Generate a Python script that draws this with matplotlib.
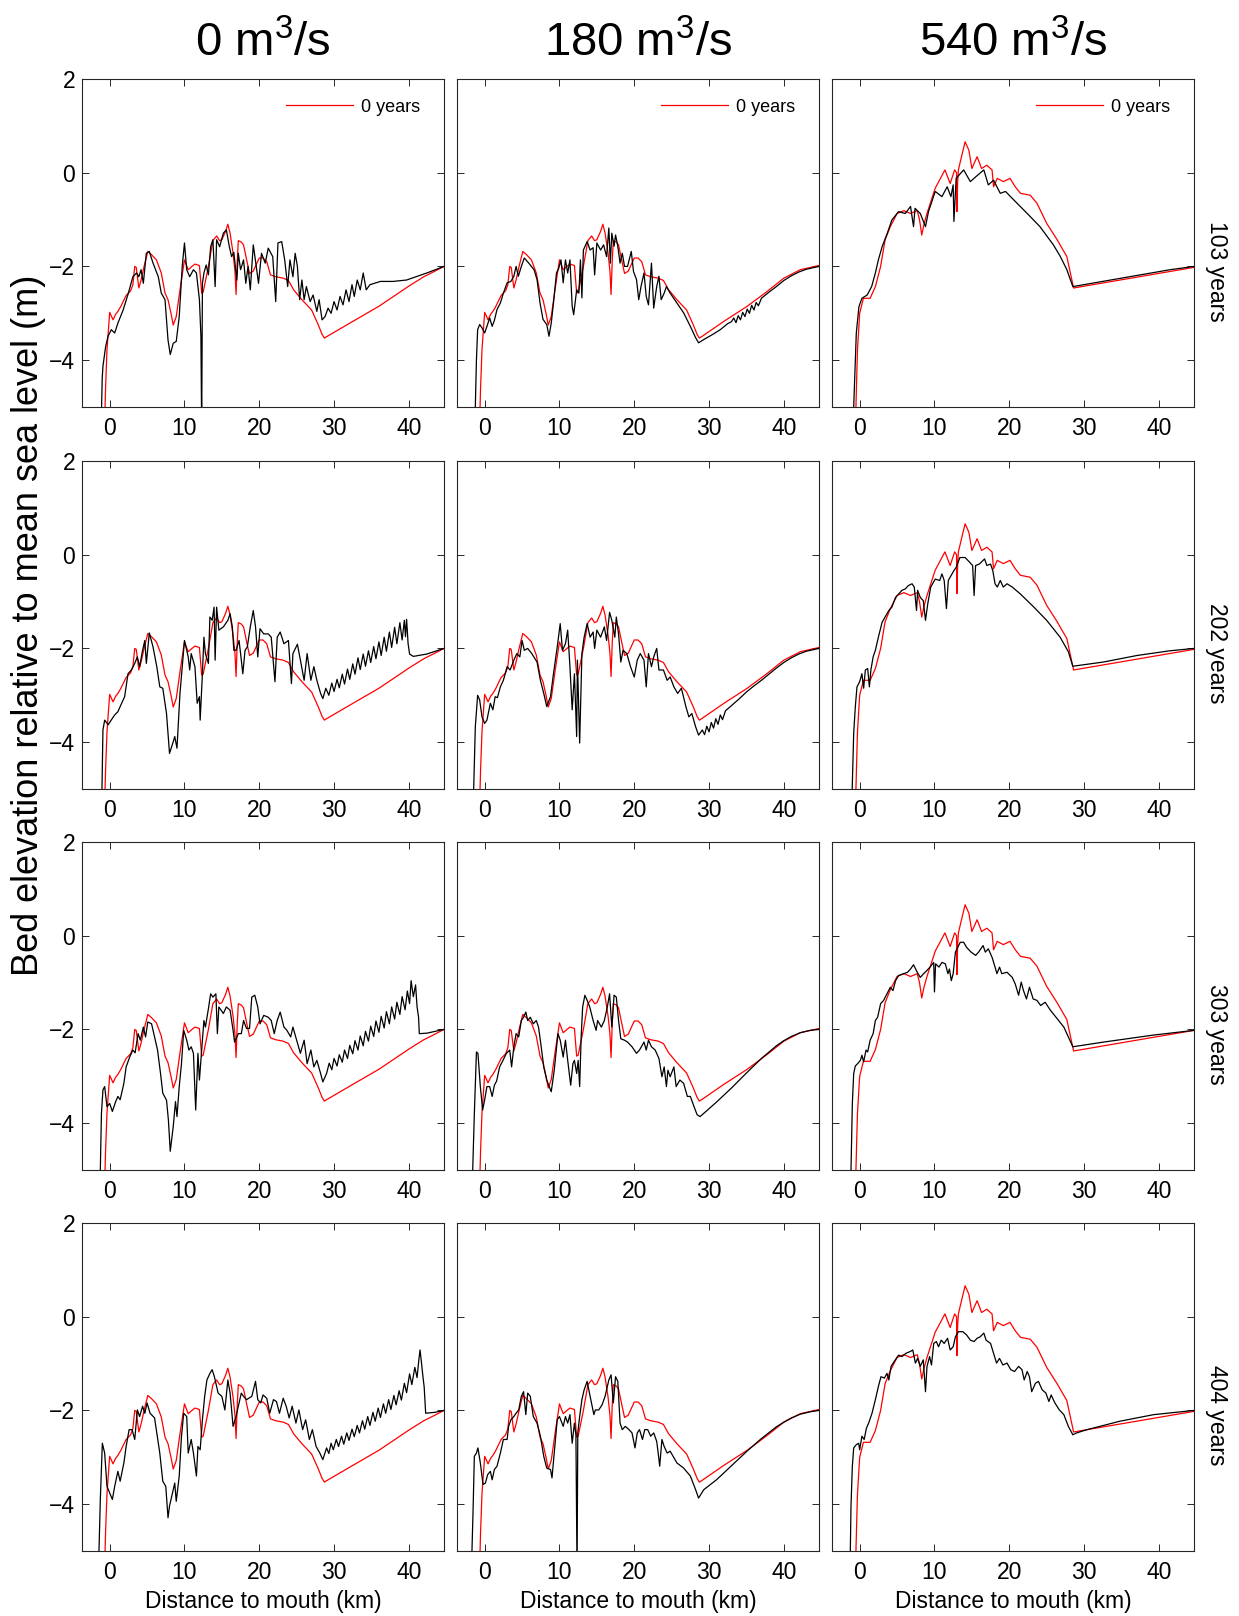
import numpy as np
import matplotlib.pyplot as plt

plt.rcParams['font.family'] = ['Liberation Sans', 'DejaVu Sans']
plt.rcParams['mathtext.fontset'] = 'custom'
plt.rcParams['mathtext.rm'] = 'Liberation Sans'
plt.rcParams['mathtext.it'] = 'Liberation Sans:italic'

discharges = ['0', '180', '540']
years = ['103', '202', '303', '404']
x_ticks = [0, 10, 20, 30, 40]
y_ticks = [-4, -2, 0, 2]

# initial bed (0 years), upstream part shared by the 0 and 180 m3/s runs
init_upstream = [
    (-0.7, -5.5), (-0.55, -4.6), (-0.36, -3.78), (-0.1, -3.2), (0.0, -2.98), (0.2, -3.05),
    (0.45, -3.14), (0.8, -3.02), (1.1, -2.96), (1.5, -2.85), (1.8, -2.75), (2.2, -2.62),
    (2.5, -2.57), (2.8, -2.52), (3.1, -2.39), (3.35, -2.0), (3.55, -2.02), (3.9, -2.46),
    (4.2, -2.29), (4.6, -2.0), (5.1, -1.68), (5.6, -1.75), (6.25, -1.86), (6.9, -2.14),
    (7.4, -2.57), (7.8, -2.71), (8.2, -3.0), (8.5, -3.25), (8.9, -3.07), (9.4, -2.5),
    (10.0, -1.86), (10.5, -2.07), (11.0, -2.0), (11.4, -1.95), (12.0, -1.98), (12.3, -2.57),
    (12.5, -2.55), (13.2, -2.0), (13.8, -1.45), (14.3, -1.35), (14.7, -1.45), (15.0, -1.43),
    (15.5, -1.25), (15.8, -1.1), (16.1, -1.29), (16.5, -1.72), (16.75, -2.1), (16.9, -2.6),
    (17.05, -1.9), (17.2, -1.45), (17.6, -1.48), (17.9, -1.54), (18.3, -1.85), (18.7, -2.15),
    (19.2, -2.1), (20.0, -1.82), (20.5, -1.82), (21.0, -1.9), (21.5, -2.18), (22.2, -2.22),
    (23.2, -2.25), (23.9, -2.3), (24.6, -2.5), (25.7, -2.71), (27.0, -2.93), (27.9, -3.25),
    (28.4, -3.45), (28.7, -3.53),
]
init_tail_0 = [(29.0, -3.5), (32.0, -3.22), (36.0, -2.85), (40.0, -2.42), (42.0, -2.22),
               (43.5, -2.1), (44.7, -2.0)]
init_tail_180 = [(29.0, -3.5), (32.0, -3.17), (35.1, -2.85), (37.8, -2.53), (40.0, -2.25),
                 (42.2, -2.07), (44.7, -1.98)]
init_540 = [
    (-0.6, -5.5), (-0.5, -5.0), (-0.3, -3.8), (0.0, -3.0), (0.5, -2.68), (1.4, -2.68),
    (2.1, -2.43), (2.8, -2.0), (3.4, -1.43), (4.1, -1.15), (5.0, -0.87), (5.9, -0.81),
    (6.8, -0.87), (7.7, -0.81), (8.0, -1.0), (8.3, -1.33), (8.6, -1.1), (9.0, -0.87),
    (10.1, -0.33), (11.4, 0.06), (12.1, -0.23), (12.7, 0.06), (12.95, 0.0), (13.0, -0.83),
    (13.1, -0.2), (13.2, 0.06), (13.7, 0.4), (14.1, 0.66), (14.6, 0.48), (15.0, 0.09),
    (15.7, 0.34), (16.3, 0.09), (17.0, 0.16), (17.7, 0.06), (17.9, -0.3), (18.4, -0.12),
    (19.2, -0.19), (20.1, -0.12), (20.8, -0.3), (21.5, -0.44), (22.8, -0.48), (23.7, -0.65),
    (25.0, -1.08), (26.4, -1.43), (27.7, -1.79), (28.6, -2.46), (44.7, -2.02),
]

# bed after N years, 0 m3/s
bed_0_103 = [
    (-1.15, -5.5), (-1.0, -4.4), (-0.9, -4.13), (-0.54, -3.71), (-0.22, -3.49), (0.22, -3.35),
    (0.67, -3.42), (1.1, -3.21), (1.8, -2.93), (2.5, -2.57), (3.1, -2.22), (3.6, -2.14),
    (3.9, -2.22), (4.2, -2.07), (4.5, -2.36), (4.9, -1.72), (5.3, -1.68), (5.8, -1.93),
    (6.5, -2.22), (6.9, -2.57), (7.4, -2.71), (7.8, -3.57), (8.1, -3.88), (8.5, -3.64),
    (8.9, -3.6), (9.3, -3.07), (9.7, -2.0), (10.0, -1.5), (10.3, -2.07), (10.7, -2.22),
    (11.2, -2.07), (11.6, -2.14), (12.0, -2.71), (12.2, -3.5), (12.3, -5.5), (12.4, -2.36),
    (12.6, -2.14), (12.9, -1.97), (13.2, -2.18), (13.5, -1.58), (13.8, -1.43), (14.1, -2.43),
    (14.3, -1.43), (14.7, -1.58), (15.2, -1.29), (15.6, -1.22), (16.0, -1.58), (16.3, -1.79),
    (16.6, -1.7), (17.0, -2.29), (17.2, -1.72), (17.5, -2.07), (17.9, -1.86), (18.2, -2.36),
    (18.5, -2.0), (18.8, -2.5), (19.2, -1.54), (19.6, -2.0), (19.9, -2.36), (20.3, -1.72),
    (20.8, -1.93), (21.2, -1.61), (21.8, -1.79), (22.2, -2.75), (22.5, -1.5), (23.0, -1.47),
    (23.4, -1.86), (23.8, -2.43), (24.1, -1.86), (24.5, -2.22), (24.8, -1.72), (25.1, -2.0),
    (25.4, -2.71), (25.7, -2.29), (26.0, -2.71), (26.3, -2.43), (26.8, -2.75), (27.2, -2.61),
    (27.7, -2.96), (28.0, -2.71), (28.4, -3.14), (28.8, -3.07), (29.2, -2.89), (29.6, -3.0),
    (30.0, -2.75), (30.4, -2.93), (30.8, -2.64), (31.2, -2.82), (31.6, -2.5), (32.0, -2.75),
    (32.4, -2.39), (32.7, -2.64), (33.1, -2.29), (33.5, -2.5), (33.9, -2.14), (34.3, -2.5),
    (34.8, -2.39), (36.2, -2.32), (37.9, -2.32), (39.7, -2.29), (42.4, -2.14), (44.7, -2.0),
]
bed_0_202 = [
    (-1.1, -5.5), (-1.03, -5.0), (-0.9, -3.74), (-0.67, -3.53), (-0.2, -3.63), (0.2, -3.53),
    (0.67, -3.42), (1.1, -3.35), (1.6, -3.17), (2.0, -3.03), (2.45, -2.54), (2.9, -2.46),
    (3.35, -2.32), (3.7, -2.18), (4.0, -2.39), (4.4, -2.04), (4.7, -1.83), (4.9, -2.32),
    (5.3, -1.67), (5.8, -1.97), (6.3, -2.39), (6.7, -2.82), (7.1, -2.85), (7.6, -3.39),
    (8.0, -4.24), (8.5, -3.99), (8.7, -3.88), (9.0, -4.13), (9.4, -2.96), (10.0, -1.83),
    (10.5, -2.18), (10.7, -2.46), (10.9, -2.11), (11.4, -2.39), (11.7, -3.17), (12.0, -3.03),
    (12.1, -3.53), (12.4, -2.54), (12.6, -1.76), (12.8, -2.11), (13.2, -2.32), (13.4, -1.33),
    (13.7, -1.4), (13.96, -1.12), (14.1, -2.25), (14.3, -1.12), (14.6, -1.61), (15.2, -1.54),
    (15.8, -1.4), (16.1, -1.26), (16.4, -1.54), (16.6, -2.04), (16.9, -2.04), (17.3, -1.83),
    (17.6, -2.25), (17.8, -2.54), (18.1, -2.04), (18.4, -1.97), (18.8, -1.54), (19.2, -1.19),
    (19.5, -1.54), (19.8, -2.18), (20.1, -1.58), (20.6, -1.69), (21.2, -1.69), (21.6, -1.76),
    (22.1, -2.71), (22.4, -1.76), (22.8, -1.65), (23.3, -1.9), (23.9, -1.83), (24.3, -2.75),
    (24.5, -2.11), (25.1, -1.91), (25.5, -2.25), (26.0, -2.68), (26.4, -2.11), (26.9, -2.68),
    (27.3, -2.39), (27.7, -2.68), (28.2, -2.96), (28.5, -3.07), (28.9, -2.85), (29.3, -3.0),
    (29.7, -2.74), (30.0, -2.92), (30.4, -2.66), (30.7, -2.84), (31.1, -2.55), (31.4, -2.76),
    (31.8, -2.44), (32.1, -2.66), (32.5, -2.33), (32.8, -2.55), (33.2, -2.2), (33.5, -2.45),
    (33.9, -2.12), (34.2, -2.38), (34.6, -2.05), (34.9, -2.3), (35.3, -1.96), (35.6, -2.22),
    (36.0, -1.86), (36.3, -2.15), (36.7, -1.76), (37.0, -2.06), (37.4, -1.65), (37.7, -1.98),
    (38.1, -1.55), (38.4, -1.9), (38.8, -1.45), (39.1, -1.82), (39.4, -1.4), (39.55, -1.75),
    (39.7, -1.38), (39.9, -1.9), (40.1, -2.12), (40.6, -2.17), (42.4, -2.12), (44.7, -2.0),
]
bed_0_303 = [
    (-1.3, -5.5), (-1.25, -5.0), (-1.1, -3.79), (-0.9, -3.29), (-0.67, -3.22), (-0.36, -3.65),
    (0.0, -3.58), (0.36, -3.75), (0.8, -3.54), (1.1, -3.43), (1.4, -3.5), (1.9, -3.15),
    (2.2, -2.8), (2.7, -2.58), (3.1, -2.44), (3.4, -2.5), (3.8, -2.09), (4.1, -2.23),
    (4.5, -1.95), (4.8, -2.16), (5.1, -1.84), (5.6, -1.88), (6.0, -2.16), (6.4, -2.44),
    (6.8, -2.94), (7.1, -3.36), (7.6, -3.51), (7.85, -3.93), (8.1, -4.6), (8.5, -4.07),
    (8.8, -3.54), (9.0, -3.86), (9.3, -3.22), (9.6, -2.73), (9.9, -2.02), (10.3, -2.23),
    (10.6, -2.44), (10.9, -2.37), (11.2, -2.51), (11.5, -3.72), (11.8, -2.51), (12.0, -3.08),
    (12.3, -2.44), (12.6, -1.81), (12.8, -1.95), (13.2, -1.56), (13.5, -1.24), (13.8, -1.31),
    (14.2, -1.24), (14.4, -2.09), (14.6, -1.52), (15.2, -1.66), (15.6, -1.52), (16.1, -1.59),
    (16.5, -2.02), (16.7, -2.27), (17.2, -2.09), (17.6, -2.09), (17.9, -1.81), (18.3, -1.98),
    (18.7, -1.98), (19.0, -1.31), (19.4, -1.27), (19.8, -1.52), (20.1, -1.88), (20.6, -1.7),
    (21.2, -1.74), (21.6, -1.81), (22.0, -2.09), (22.4, -1.81), (22.8, -1.63), (23.3, -1.95),
    (23.7, -2.02), (24.2, -2.16), (24.5, -1.95), (25.0, -2.23), (25.5, -2.51), (26.0, -2.23),
    (26.4, -2.73), (26.9, -2.44), (27.3, -2.8), (27.7, -2.66), (28.2, -2.94), (28.5, -3.12),
    (29.0, -2.94), (29.35, -2.72), (29.7, -2.86), (30.0, -2.62), (30.4, -2.78), (30.7, -2.54),
    (31.1, -2.7), (31.4, -2.44), (31.8, -2.62), (32.1, -2.34), (32.5, -2.52), (32.8, -2.24),
    (33.2, -2.44), (33.5, -2.14), (33.9, -2.35), (34.2, -2.04), (34.6, -2.25), (34.9, -1.93),
    (35.3, -2.15), (35.6, -1.82), (36.0, -2.06), (36.3, -1.72), (36.7, -1.97), (37.0, -1.62),
    (37.4, -1.88), (37.7, -1.52), (38.1, -1.78), (38.4, -1.42), (38.8, -1.68), (39.1, -1.3),
    (39.5, -1.58), (39.8, -1.18), (40.1, -1.45), (40.3, -0.96), (40.6, -1.3), (40.9, -1.05),
    (41.1, -1.52), (41.3, -1.74), (41.4, -2.09), (42.4, -2.08), (44.7, -2.0),
]
bed_0_404 = [
    (-1.45, -5.5), (-1.43, -5.0), (-1.25, -3.9), (-0.98, -2.7), (-0.67, -2.91), (-0.36, -3.62),
    (0.0, -3.76), (0.36, -3.9), (0.67, -3.62), (1.1, -3.3), (1.4, -3.51), (1.9, -3.12),
    (2.2, -2.77), (2.6, -2.41), (3.0, -2.41), (3.35, -2.62), (3.7, -1.99), (4.0, -2.13),
    (4.4, -1.91), (4.7, -2.06), (5.0, -1.84), (5.4, -2.06), (6.0, -2.16), (6.3, -2.48),
    (6.7, -2.91), (7.1, -3.51), (7.5, -3.62), (7.8, -4.29), (8.0, -4.04), (8.4, -3.76),
    (8.7, -3.55), (8.9, -3.94), (9.3, -3.4), (9.6, -2.55), (9.9, -2.06), (10.3, -2.13),
    (10.5, -2.91), (10.9, -2.62), (11.2, -2.91), (11.6, -3.4), (11.8, -2.77), (12.1, -2.84),
    (12.4, -2.2), (12.7, -1.7), (13.0, -1.35), (13.4, -1.21), (13.7, -1.13), (14.0, -1.28),
    (14.5, -1.63), (15.0, -1.7), (15.4, -1.99), (15.8, -1.35), (16.1, -1.63), (16.5, -2.34),
    (16.9, -2.13), (17.2, -1.91), (17.6, -1.63), (17.9, -1.7), (18.3, -1.77), (19.0, -1.7),
    (19.5, -1.38), (19.8, -1.77), (20.2, -1.84), (20.5, -1.67), (21.0, -1.74), (21.4, -2.06),
    (21.9, -1.77), (22.3, -1.81), (22.7, -2.06), (23.2, -1.74), (23.6, -1.91), (24.0, -2.16),
    (24.4, -1.91), (24.9, -2.27), (25.3, -1.99), (25.8, -2.41), (26.2, -2.2), (26.7, -2.62),
    (27.1, -2.41), (27.6, -2.77), (28.1, -2.91), (28.5, -3.05), (29.0, -2.8), (29.3, -2.92),
    (29.6, -2.7), (29.9, -2.84), (30.3, -2.62), (30.6, -2.77), (31.0, -2.55), (31.3, -2.72),
    (31.7, -2.48), (32.0, -2.64), (32.4, -2.4), (32.7, -2.56), (33.1, -2.32), (33.4, -2.48),
    (33.8, -2.22), (34.1, -2.4), (34.5, -2.13), (34.8, -2.32), (35.2, -2.04), (35.5, -2.23),
    (35.9, -1.95), (36.2, -2.15), (36.6, -1.86), (36.9, -2.06), (37.3, -1.77), (37.6, -1.98),
    (38.0, -1.68), (38.3, -1.88), (38.7, -1.58), (39.0, -1.78), (39.4, -1.42), (39.7, -1.62),
    (40.1, -1.22), (40.4, -1.45), (40.8, -1.08), (41.1, -1.3), (41.35, -0.9), (41.5, -0.71),
    (41.7, -1.0), (41.9, -1.3), (42.05, -1.5), (42.25, -2.06), (43.5, -2.04), (44.7, -2.0),
]

# bed after N years, 180 m3/s
bed_180_103 = [
    (-1.3, -5.5), (-1.25, -5.0), (-1.1, -3.99), (-0.94, -3.35), (-0.67, -3.24), (-0.36, -3.31),
    (0.0, -3.42), (0.3, -3.28), (0.67, -3.1), (1.0, -3.28), (1.3, -3.15), (1.65, -2.92),
    (2.1, -2.78), (2.5, -2.57), (3.0, -2.35), (3.5, -2.32), (3.9, -2.21), (4.2, -2.0),
    (4.5, -2.21), (4.9, -2.0), (5.3, -1.82), (5.9, -1.93), (6.6, -2.07), (7.0, -2.28),
    (7.4, -2.78), (7.8, -3.13), (8.3, -3.24), (8.6, -3.49), (8.9, -3.21), (9.2, -2.78),
    (9.6, -2.14), (9.9, -2.04), (10.2, -1.86), (10.5, -2.35), (10.8, -1.86), (11.1, -2.14),
    (11.4, -1.86), (11.7, -2.85), (11.9, -3.03), (12.3, -2.5), (12.6, -2.57), (12.8, -1.86),
    (13.0, -2.67), (13.2, -1.65), (13.7, -1.47), (14.1, -1.65), (14.5, -1.6), (14.7, -2.18),
    (15.0, -1.5), (15.5, -1.65), (15.9, -1.54), (16.3, -1.79), (16.6, -1.18), (16.8, -1.93),
    (17.0, -1.29), (17.3, -1.57), (17.5, -1.33), (17.8, -1.57), (18.1, -1.93), (18.4, -1.72),
    (18.7, -2.0), (19.1, -2.0), (19.6, -1.68), (19.9, -2.11), (20.3, -2.28), (20.6, -2.71),
    (20.9, -2.43), (21.3, -2.14), (21.6, -2.64), (21.9, -2.82), (22.3, -1.93), (22.6, -2.89),
    (23.0, -2.43), (23.3, -2.21), (23.6, -2.71), (24.0, -2.57), (24.3, -2.43), (24.8, -2.57),
    (25.7, -2.78), (26.6, -2.99), (27.5, -3.28), (28.2, -3.52), (28.6, -3.63), (29.3, -3.56),
    (30.5, -3.45), (31.5, -3.35), (32.5, -3.22), (33.0, -3.18), (33.3, -3.1), (33.6, -3.2),
    (33.9, -3.05), (34.2, -3.14), (34.5, -2.98), (34.8, -3.07), (35.1, -2.91), (35.4, -3.0),
    (35.7, -2.83), (36.0, -2.93), (36.3, -2.77), (36.6, -2.84), (37.0, -2.68), (38.0, -2.55),
    (39.0, -2.43), (40.0, -2.3), (41.0, -2.2), (42.0, -2.12), (43.0, -2.06), (44.7, -2.0),
]
bed_180_202 = [
    (-1.5, -5.5), (-1.47, -5.0), (-1.25, -3.67), (-0.94, -3.0), (-0.67, -3.1), (-0.36, -3.46),
    (0.0, -3.6), (0.3, -3.53), (0.76, -3.17), (1.1, -3.31), (1.4, -3.03), (1.7, -3.05),
    (2.1, -2.82), (2.5, -2.68), (3.0, -2.39), (3.4, -2.46), (3.9, -2.25), (4.3, -2.11),
    (4.7, -2.18), (5.0, -1.83), (5.3, -2.04), (5.75, -2.0), (6.3, -2.11), (7.0, -2.29),
    (7.45, -2.68), (7.9, -2.96), (8.3, -3.24), (8.8, -3.03), (9.2, -2.54), (9.7, -1.97),
    (10.1, -1.47), (10.4, -2.04), (10.8, -1.9), (11.1, -1.61), (11.4, -2.39), (11.7, -3.31),
    (12.0, -2.54), (12.3, -3.88), (12.4, -2.25), (12.7, -4.02), (13.0, -2.11), (13.3, -1.76),
    (13.7, -1.47), (14.1, -1.76), (14.5, -1.65), (14.7, -2.0), (15.0, -1.61), (15.5, -1.76),
    (16.0, -1.54), (16.3, -1.83), (16.7, -1.23), (17.0, -1.4), (17.4, -1.76), (17.6, -1.33),
    (17.9, -1.69), (18.2, -2.29), (18.5, -2.04), (19.0, -2.11), (19.5, -2.39), (20.0, -2.61),
    (20.4, -2.25), (20.8, -2.11), (21.3, -2.25), (21.6, -2.82), (21.9, -2.11), (22.3, -2.39),
    (22.6, -2.18), (23.0, -2.0), (23.3, -2.46), (23.9, -2.46), (24.4, -2.68), (24.8, -2.61),
    (25.3, -2.82), (25.8, -2.96), (26.3, -2.85), (26.9, -3.24), (27.3, -3.46), (27.7, -3.39),
    (28.2, -3.67), (28.6, -3.85), (29.1, -3.74), (29.4, -3.84), (29.7, -3.66), (30.0, -3.78),
    (30.3, -3.58), (30.6, -3.7), (30.9, -3.5), (31.2, -3.62), (31.5, -3.42), (31.8, -3.52),
    (32.2, -3.33), (33.0, -3.22), (34.0, -3.08), (35.0, -2.93), (36.0, -2.8), (37.0, -2.68),
    (38.0, -2.55), (39.0, -2.42), (40.0, -2.3), (41.0, -2.2), (42.0, -2.12), (43.0, -2.06),
    (44.7, -2.0),
]
bed_180_303 = [
    (-1.65, -5.5), (-1.6, -5.0), (-1.38, -3.79), (-1.1, -2.48), (-0.9, -2.51), (-0.58, -3.22),
    (-0.27, -3.72), (0.0, -3.5), (0.3, -3.22), (0.67, -3.22), (1.0, -3.43), (1.3, -3.19),
    (1.6, -3.1), (2.0, -2.8), (2.45, -2.66), (2.9, -2.51), (3.35, -2.44), (3.6, -2.8),
    (3.9, -2.37), (4.2, -2.09), (4.55, -2.16), (4.9, -1.81), (5.2, -1.74), (5.5, -1.63),
    (5.75, -1.81), (6.1, -1.74), (6.5, -1.88), (6.9, -1.81), (7.2, -1.95), (7.5, -2.3),
    (7.9, -2.8), (8.3, -3.08), (8.9, -3.33), (9.3, -2.87), (9.8, -2.09), (10.1, -2.23),
    (10.5, -2.59), (10.8, -2.23), (11.1, -2.66), (11.5, -3.19), (11.8, -2.73), (12.0, -2.66),
    (12.3, -2.94), (12.5, -2.66), (12.7, -3.22), (12.9, -2.16), (13.1, -1.52), (13.4, -1.27),
    (13.7, -1.38), (14.05, -1.52), (14.5, -1.81), (14.9, -2.02), (15.1, -1.81), (15.6, -1.95),
    (16.0, -1.81), (16.4, -1.52), (16.7, -1.24), (17.0, -1.95), (17.3, -1.27), (17.6, -1.31),
    (17.9, -1.81), (18.2, -2.2), (18.7, -2.23), (19.1, -2.27), (19.7, -2.37), (20.3, -2.51),
    (20.7, -2.44), (21.3, -2.27), (21.6, -2.44), (21.9, -2.23), (22.3, -2.37), (22.8, -2.44),
    (23.3, -2.62), (23.7, -3.01), (24.0, -2.8), (24.3, -3.22), (24.5, -2.87), (24.8, -3.01),
    (25.3, -2.8), (25.6, -3.22), (26.1, -3.08), (26.6, -3.15), (27.1, -3.43), (27.5, -3.43),
    (28.0, -3.65), (28.4, -3.82), (28.8, -3.86), (29.3, -3.79), (31.0, -3.55), (33.0, -3.25),
    (35.0, -2.93), (37.0, -2.62), (39.0, -2.35), (40.0, -2.24), (41.0, -2.15), (42.2, -2.07),
    (43.5, -2.02), (44.7, -2.0),
]
bed_180_404 = [
    (-1.75, -5.5), (-1.7, -5.0), (-1.56, -4.18), (-1.38, -2.98), (-1.1, -2.91), (-0.9, -2.8),
    (-0.58, -3.12), (-0.22, -3.58), (0.1, -3.55), (0.4, -3.37), (0.76, -3.3), (1.0, -3.48),
    (1.3, -3.26), (1.65, -3.19), (2.1, -2.91), (2.5, -2.62), (3.0, -2.62), (3.2, -2.34),
    (3.5, -2.2), (3.9, -2.13), (4.2, -2.06), (4.55, -1.99), (4.9, -1.7), (5.2, -1.6),
    (5.5, -2.09), (5.75, -1.63), (6.1, -1.7), (6.5, -2.13), (7.0, -2.27), (7.45, -2.55),
    (7.9, -2.98), (8.3, -3.23), (8.8, -3.26), (9.0, -3.44), (9.3, -2.91), (9.7, -2.2),
    (10.0, -2.13), (10.5, -2.34), (10.8, -2.13), (11.1, -2.27), (11.4, -2.09), (11.7, -2.7),
    (12.0, -2.27), (12.2, -2.52), (12.35, -5.5), (12.45, -2.48), (12.7, -2.13), (13.0, -1.77),
    (13.3, -1.56), (13.7, -1.38), (14.1, -1.7), (14.6, -2.09), (14.8, -1.99), (15.25, -1.99),
    (15.7, -1.88), (16.1, -1.7), (16.6, -1.35), (16.9, -1.24), (17.2, -1.84), (17.5, -1.28),
    (17.8, -1.38), (18.1, -2.27), (18.4, -2.41), (18.8, -2.34), (19.3, -2.41), (19.7, -2.48),
    (20.1, -2.8), (20.4, -2.48), (20.7, -2.41), (21.1, -2.62), (21.4, -2.41), (21.8, -2.41),
    (22.2, -2.55), (22.6, -2.48), (23.0, -2.66), (23.2, -2.91), (23.4, -3.19), (23.7, -2.62),
    (24.0, -2.77), (24.4, -2.91), (24.8, -2.87), (25.7, -3.12), (26.6, -3.23), (27.5, -3.4),
    (28.2, -3.69), (28.6, -3.87), (29.3, -3.69), (31.0, -3.48), (33.0, -3.18), (35.0, -2.88),
    (37.0, -2.6), (39.0, -2.35), (40.0, -2.25), (41.0, -2.16), (42.2, -2.08), (43.5, -2.03),
    (44.7, -2.0),
]

# bed after N years, 540 m3/s
bed_540_103 = [
    (-0.85, -5.5), (-0.8, -5.0), (-0.45, -3.42), (-0.1, -2.86), (0.3, -2.68), (1.0, -2.61),
    (1.6, -2.43), (2.1, -2.14), (2.5, -1.86), (3.0, -1.58), (3.7, -1.29), (4.3, -1.01),
    (5.2, -0.83), (6.1, -0.87), (6.8, -0.72), (7.2, -1.15), (7.4, -0.76), (8.1, -0.87),
    (8.8, -1.15), (9.2, -0.83), (10.1, -0.4), (11.0, -0.51), (11.7, -0.3), (12.2, -0.51),
    (12.5, -0.26), (12.6, -1.04), (12.9, -0.12), (13.9, 0.06), (14.8, -0.19), (15.5, -0.09),
    (16.6, 0.06), (17.2, -0.26), (17.9, -0.16), (18.8, -0.44), (19.5, -0.4), (20.6, -0.58),
    (22.4, -0.87), (24.1, -1.15), (25.9, -1.54), (26.8, -1.78), (27.7, -2.07), (28.5, -2.43),
    (41.5, -2.07), (44.7, -2.0),
]
bed_540_202 = [
    (-1.05, -5.5), (-1.0, -5.0), (-0.8, -3.81), (-0.58, -3.24), (-0.36, -2.82), (0.0, -2.71),
    (0.3, -2.54), (0.53, -2.85), (0.76, -2.46), (1.07, -2.43), (1.3, -2.82), (1.5, -2.46),
    (1.8, -2.18), (2.1, -2.04), (2.5, -1.76), (3.0, -1.44), (3.4, -1.33), (3.9, -1.19),
    (4.3, -1.12), (4.8, -0.91), (5.2, -0.84), (5.65, -0.76), (6.1, -0.73), (6.5, -0.66),
    (7.0, -0.62), (7.3, -0.69), (7.6, -1.19), (7.75, -0.76), (8.1, -0.91), (8.5, -0.98),
    (8.6, -1.12), (8.8, -1.4), (9.1, -1.05), (9.5, -0.69), (10.1, -0.52), (10.7, -0.55),
    (11.0, -0.41), (11.3, -0.55), (11.6, -1.15), (11.85, -0.55), (12.2, -0.45), (12.6, -0.34),
    (12.9, -0.27), (13.4, -0.06), (14.1, -0.06), (14.7, -0.16), (15.1, -0.23), (15.3, -0.87),
    (15.5, -0.23), (16.0, -0.2), (16.7, -0.09), (17.0, -0.23), (17.5, -0.2), (17.8, -0.34),
    (18.1, -0.62), (18.4, -0.69), (18.8, -0.55), (19.2, -0.69), (19.7, -0.62), (20.4, -0.69),
    (21.5, -0.84), (23.3, -1.12), (25.0, -1.4), (26.8, -1.76), (27.9, -2.07), (28.5, -2.38),
    (32.6, -2.29), (37.1, -2.15), (41.5, -2.05), (44.7, -2.0),
]
bed_540_303 = [
    (-1.2, -5.5), (-1.16, -5.0), (-0.98, -3.58), (-0.8, -2.94), (-0.58, -2.78), (-0.27, -2.73),
    (0.1, -2.66), (0.3, -2.55), (0.53, -2.69), (0.85, -2.44), (1.07, -2.48), (1.4, -2.23),
    (1.8, -2.09), (2.1, -1.81), (2.4, -1.74), (2.8, -1.45), (3.2, -1.38), (3.65, -1.24),
    (4.1, -1.1), (4.45, -1.17), (4.8, -0.96), (5.2, -0.85), (5.9, -0.81), (6.4, -0.78),
    (6.8, -0.71), (7.2, -0.62), (7.7, -0.78), (8.1, -0.89), (8.55, -0.81), (9.0, -0.74),
    (9.4, -0.67), (9.9, -0.57), (10.0, -1.2), (10.15, -0.6), (10.6, -0.67), (11.0, -0.57),
    (11.45, -0.6), (11.8, -0.81), (12.0, -0.71), (12.25, -0.96), (12.5, -0.81), (12.8, -0.35),
    (13.1, -0.25), (13.45, -0.14), (13.9, -0.14), (14.3, -0.25), (14.9, -0.35), (15.5, -0.42),
    (15.9, -0.35), (16.5, -0.21), (16.8, -0.35), (17.2, -0.28), (17.7, -0.46), (18.1, -0.67),
    (18.35, -0.81), (18.7, -0.67), (19.0, -0.81), (19.7, -0.78), (20.4, -0.89), (20.8, -1.03),
    (21.25, -1.27), (21.6, -0.99), (21.9, -1.17), (22.3, -1.35), (22.7, -1.1), (23.2, -1.35),
    (23.7, -1.38), (24.2, -1.49), (24.8, -1.42), (25.5, -1.59), (26.4, -1.77), (27.3, -1.95),
    (27.9, -2.16), (28.5, -2.37), (32.6, -2.27), (39.3, -2.12), (44.7, -2.02),
]
bed_540_404 = [
    (-1.3, -5.5), (-1.25, -5.0), (-1.16, -4.04), (-0.98, -3.19), (-0.8, -2.8), (-0.45, -2.73),
    (-0.13, -2.7), (0.0, -2.84), (0.3, -2.55), (0.6, -2.62), (0.9, -2.38), (1.2, -2.27),
    (1.65, -2.06), (2.1, -1.77), (2.5, -1.49), (2.85, -1.28), (3.3, -1.31), (3.65, -1.21),
    (3.9, -1.35), (4.2, -1.06), (4.6, -0.96), (5.2, -0.82), (5.65, -0.85), (6.2, -0.78),
    (6.8, -0.74), (7.1, -0.71), (7.45, -0.99), (7.75, -0.89), (8.1, -1.06), (8.5, -0.92),
    (8.8, -1.6), (9.0, -1.06), (9.35, -0.85), (9.6, -1.03), (9.9, -0.57), (10.25, -0.53),
    (10.55, -0.64), (10.9, -0.5), (11.3, -0.57), (11.75, -0.46), (12.1, -0.71), (12.5, -0.64),
    (12.8, -0.43), (13.2, -0.32), (13.8, -0.32), (14.3, -0.39), (14.8, -0.5), (15.3, -0.53),
    (15.7, -0.46), (16.1, -0.43), (16.6, -0.35), (16.9, -0.5), (17.5, -0.57), (17.9, -0.78),
    (18.3, -0.99), (18.7, -0.89), (19.15, -1.03), (19.7, -0.99), (20.2, -1.13), (20.7, -1.17),
    (21.25, -1.06), (21.7, -1.13), (22.0, -1.35), (22.4, -1.17), (22.7, -1.28), (23.0, -1.6),
    (23.5, -1.42), (23.9, -1.38), (24.4, -1.56), (24.9, -1.63), (25.3, -1.81), (25.6, -1.67),
    (26.1, -1.84), (26.7, -1.99), (27.3, -2.09), (27.9, -2.34), (28.5, -2.52), (29.0, -2.48),
    (30.4, -2.41), (34.8, -2.23), (39.3, -2.09), (44.7, -2.0),
]

initial = [init_upstream + init_tail_0, init_upstream + init_tail_180, init_540]
profiles = [
    [bed_0_103, bed_180_103, bed_540_103],
    [bed_0_202, bed_180_202, bed_540_202],
    [bed_0_303, bed_180_303, bed_540_303],
    [bed_0_404, bed_180_404, bed_540_404],
]

W, H = 1239, 1616
fig = plt.figure(figsize=(W / 100, H / 100), dpi=100)

lefts = [82, 457, 832]
tops = [79, 461, 842, 1223]
aw, ah = 362, 328

for r in range(4):
    for c in range(3):
        ax = fig.add_axes([lefts[c] / W, 1 - (tops[r] + ah) / H, aw / W, ah / H])
        x0, y0 = np.array(initial[c]).T
        x1, y1 = np.array(profiles[r][c]).T
        ax.plot(x0, y0, color='red', lw=0.9, label='0 years')
        ax.plot(x1, y1, color='black', lw=0.9)
        ax.set_xlim(-3.7, 44.7)
        ax.set_ylim(-5, 2)
        ax.set_xticks(x_ticks)
        ax.set_yticks(y_ticks)
        ax.tick_params(direction='in', top=True, right=True, length=5, width=0.7,
                       labelsize=16.5, pad=5, color='#262626')
        ax.tick_params(axis='x', pad=7.5)
        for s in ax.spines.values():
            s.set_linewidth(0.8)
            s.set_color('#262626')
        if c > 0:
            ax.set_yticklabels([])
        if r == 0:
            ax.legend(handles=ax.lines[:1], loc='upper right', frameon=False,
                      fontsize=13, handlelength=3.7, handletextpad=0.45,
                      bbox_to_anchor=(0.953, 0.962), borderaxespad=0)
        if r == 3:
            ax.set_xlabel('Distance to mouth (km)', fontsize=16.5, labelpad=4)
        if c == 2:
            ax.text(1.061, 0.415, years[r] + ' years', transform=ax.transAxes,
                    rotation=-90, ha='center', va='center', fontsize=16.5)

for c in range(3):
    fig.text((lefts[c] + aw / 2) / W, 1 - 44 / H, discharges[c] + r' m$^3$/s',
             ha='center', va='center', fontsize=34)

fig.text(29 / W, 1 - 625 / H, 'Bed elevation relative to mean sea level (m)',
         rotation=90, ha='center', va='center', fontsize=26)

fig.savefig('out.png', dpi=100)
